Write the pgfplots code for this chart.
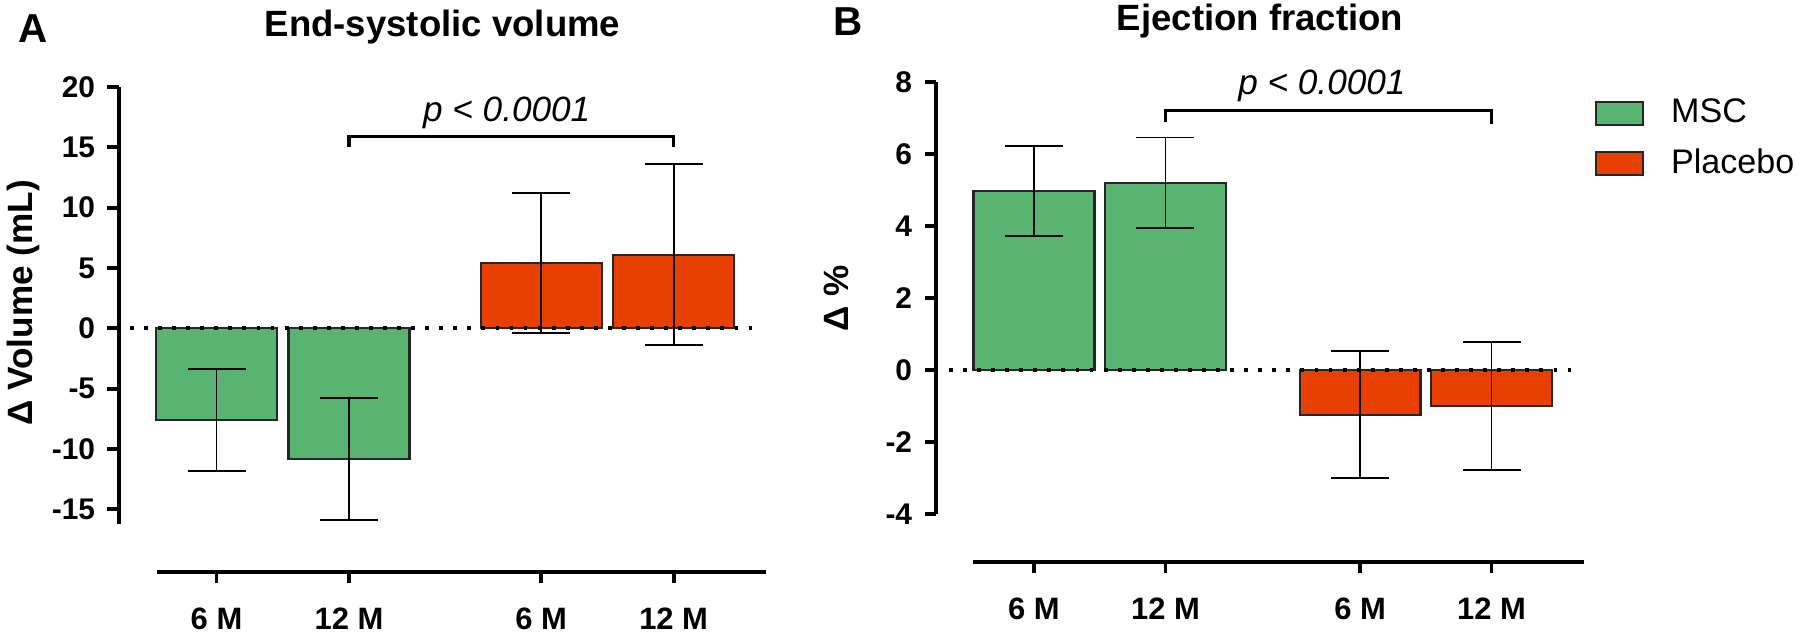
\documentclass[border=0pt]{standalone}
\usepackage{fontspec}
\setmainfont{Liberation Sans}
\usepackage{pgfplots}
\usepackage{pgfplotstable}
\pgfplotsset{compat=1.18}
\definecolor{mscgreen}{RGB}{88,180,112}
\definecolor{plred}{RGB}{232,64,0}

\pgfplotstableread{
x y e
0 -7.6 4.2
1 -10.85 5.05
}\esvmsc
\pgfplotstableread{
x y e
2.45 5.4 5.8
3.45 6.1 7.5
}\esvpl
\pgfplotstableread{
x y e
0 4.97 1.25
1 5.2 1.26
}\efmsc
\pgfplotstableread{
x y e
2.48 -1.24 1.76
3.48 -1.0 1.78
}\efpl

\pgfplotsset{
  panel/.style={
    scale only axis, clip=false,
    axis x line*=bottom, axis y line*=left,
    axis line style={draw=none},
    tick align=outside, major tick length=0.115cm,
    tick style={black, line width=1.1pt},
    xticklabel style={font=\bfseries\fontsize{8.8}{10}\selectfont, yshift=-0.12cm},
    yticklabel style={font=\bfseries\fontsize{8.5}{10}\selectfont},
    ylabel style={font=\bfseries\fontsize{10}{12}\selectfont},
    xtick={0,1,2.45,3.45},
    xticklabels={6 M,12 M,6 M,12 M},
  },
  mybar/.style={
    ybar, bar shift=0pt, draw=black!85, line width=0.6pt, fill=#1,
    error bars/y dir=both, error bars/y explicit,
    error bars/error bar style={line width=0.5pt, black},
    error bars/error mark options={rotate=90, line width=0.5pt, black, mark size=0.29cm},
    legend image code/.code={\draw[draw=black!85, fill=#1, line width=0.6pt] (0cm,-0.115cm) rectangle (0.47cm,0.115cm);},
  },
}

\begin{document}
\begin{tikzpicture}
\useasboundingbox (0,0) rectangle (18cm,6.36cm);
\node[anchor=base west, font=\bfseries\fontsize{11.5}{13}\selectfont, inner sep=0pt] at (0.18cm,5.93cm) {A};
\node[anchor=base west, font=\bfseries\fontsize{11.5}{13}\selectfont, inner sep=0pt] at (8.33cm,6.00cm) {B};

% Panel A
\begin{axis}[panel,
  at={(1.19cm,0.64cm)}, anchor=south west,
  width=6.47cm, height=4.85cm,
  xmin=-0.736, xmax=4.147, ymin=-20.2, ymax=20,
  ytick={-15,-10,-5,0,5,10,15,20},
  yticklabels={-15,-10,-5,0,5,10,15,20},
  ylabel={Δ Volume (mL)},
  ylabel style={at={(axis description cs:-0.147,0.555)}, anchor=center},
  bar width=0.913,
]
\addplot[mybar=mscgreen] table[x=x, y=y, y error=e] {\esvmsc};
\addplot[mybar=plred] table[x=x, y=y, y error=e] {\esvpl};
\draw[line width=1.1pt] (axis cs:-0.736,-16.2) -- (axis cs:-0.736,20);
\draw[line width=1.1pt] (axis cs:-0.45,-20.2) -- (axis cs:4.147,-20.2);
\draw[line width=1.1pt, dash pattern=on 1.1pt off 2.9pt] (axis cs:-0.653,0) -- (axis cs:4.087,0);
\draw[line width=0.9pt] (axis cs:1,15.0) -- (axis cs:1,15.9) -- (axis cs:3.45,15.9) -- (axis cs:3.45,15.0);
\node[anchor=base, font=\itshape\fontsize{10}{12}\selectfont] at (axis cs:2.19,17.15) {p < 0.0001};
\node[anchor=base, inner sep=0pt, font=\bfseries\fontsize{10.4}{12}\selectfont] at (axis description cs:0.5,1.104) {End-systolic volume};
\end{axis}

% Panel B
\begin{axis}[panel,
  at={(9.36cm,0.74cm)}, anchor=south west,
  width=6.48cm, height=4.80cm,
  xmin=-0.745, xmax=4.183, ymin=-5.333, ymax=8,
  xtick={0,1,2.48,3.48},
  ytick={-4,-2,0,2,4,6,8},
  yticklabels={-4,-2,0,2,4,6,8},
  ylabel={Δ \%},
  ylabel style={at={(axis description cs:-0.153,0.55)}, anchor=center},
  bar width=0.92,
  legend style={at={(axis description cs:1.017,0.965)}, anchor=north west,
    draw=none, fill=none, inner sep=0pt, outer sep=0pt,
    font=\fontsize{9.7}{11}\selectfont, row sep=0.21cm, column sep=0.27cm,
    nodes={inner sep=0pt}},
  legend cell align=left,
]
\addplot[mybar=mscgreen] table[x=x, y=y, y error=e] {\efmsc};
\addlegendentry{MSC}
\addplot[mybar=plred] table[x=x, y=y, y error=e] {\efpl};
\addlegendentry{Placebo}
\draw[line width=1.1pt] (axis cs:-0.745,-4) -- (axis cs:-0.745,8);
\draw[line width=1.1pt] (axis cs:-0.464,-5.333) -- (axis cs:4.183,-5.333);
\draw[line width=1.1pt, dash pattern=on 1.1pt off 2.9pt] (axis cs:-0.646,0) -- (axis cs:4.106,0);
\draw[line width=0.9pt] (axis cs:1,6.88) -- (axis cs:1,7.2) -- (axis cs:3.48,7.2) -- (axis cs:3.48,6.84);
\node[anchor=base, font=\itshape\fontsize{10}{12}\selectfont] at (axis cs:2.19,7.64) {p < 0.0001};
\node[anchor=base, inner sep=0pt, font=\bfseries\fontsize{10.4}{12}\selectfont] at (axis description cs:0.5,1.108) {Ejection fraction};
\end{axis}
\end{tikzpicture}
\end{document}
